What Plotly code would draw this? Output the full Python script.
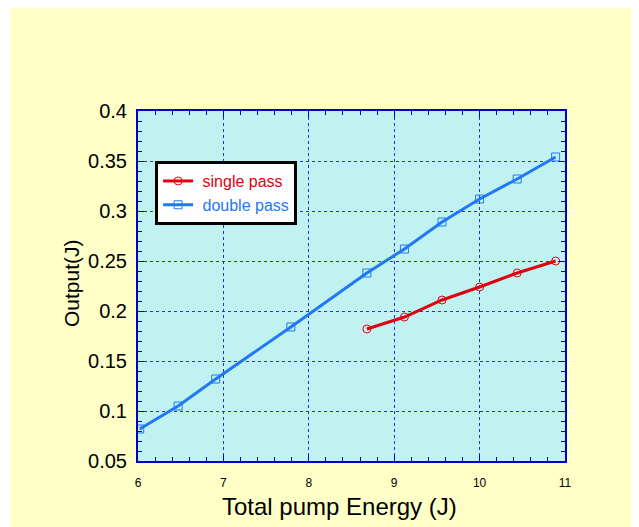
import plotly.graph_objects as go

double_x = [6.02, 6.47, 6.91, 7.79, 8.68, 9.12, 9.56, 10.0, 10.44, 10.89]
double_y = [0.082, 0.105, 0.132, 0.184, 0.238, 0.262, 0.289, 0.312, 0.332, 0.354]
single_x = [8.68, 9.12, 9.56, 10.0, 10.44, 10.89]
single_y = [0.182, 0.194, 0.211, 0.224, 0.238, 0.250]
x_ticks = [6, 7, 8, 9, 10, 11]
y_ticks = [0.05, 0.1, 0.15, 0.2, 0.25, 0.3, 0.35, 0.4]
x_title = "Total pump Energy (J)"
y_title = "Output(J)"

RED = "#E00010"
BLUE = "#2277F5"
AXIS = "#0000C8"
GRID = "#2A2AF0"
FONT = "Arial, Liberation Sans, sans-serif"

fig = go.Figure()
fig.add_trace(go.Scatter(
    x=single_x, y=single_y, mode="lines+markers",
    name=f"<span style='color:{RED}'>&nbsp;single pass</span>",
    line=dict(color=RED, width=3),
    marker=dict(symbol="circle-open", size=8, color=RED, line=dict(width=1)),
))
fig.add_trace(go.Scatter(
    x=double_x, y=double_y, mode="lines+markers",
    name=f"<span style='color:{BLUE}'>&nbsp;double pass</span>",
    line=dict(color=BLUE, width=3),
    marker=dict(symbol="square-open", size=8, color=BLUE, line=dict(width=1)),
))

axis_common = dict(
    showline=True, linecolor=AXIS, linewidth=2, mirror="ticks",
    ticks="inside", tickcolor=AXIS, ticklen=6, tickwidth=1,
    showgrid=True, gridcolor=GRID, griddash="3px,3px", gridwidth=1,
    zeroline=False,
)

fig.update_xaxes(
    range=[6, 11], tickvals=x_ticks, ticktext=[str(v) for v in x_ticks],
    tickfont=dict(family=FONT, size=12, color="black"),
    ticklabelstandoff=10,
    minor=dict(ticks="inside", dtick=0.2, ticklen=4, tickcolor=AXIS, showgrid=False),
    **axis_common,
)
fig.update_yaxes(
    range=[0.05, 0.4], tickvals=y_ticks, ticktext=[f"{v:g}" for v in y_ticks],
    tickfont=dict(family=FONT, size=20, color="black"),
    ticklabelstandoff=5,
    minor=dict(ticks="inside", dtick=0.01, ticklen=4, tickcolor=AXIS, showgrid=False),
    **axis_common,
)

fig.update_layout(
    width=631, height=519,
    margin=dict(l=130, r=74, t=103, b=66),
    paper_bgcolor="#FFFFC8",
    plot_bgcolor="#C0F2F2",
    showlegend=True,
    legend=dict(
        x=0.04, y=0.857, xanchor="left", yanchor="top",
        bgcolor="white", bordercolor="black", borderwidth=3,
        font=dict(family=FONT, size=16),
        tracegroupgap=0,
    ),
    annotations=[
        dict(text=x_title, xref="paper", yref="paper", x=0.473, y=-0.131,
             xanchor="center", yanchor="middle", showarrow=False,
             font=dict(family=FONT, size=24, color="black")),
        dict(text=y_title, xref="paper", yref="paper", x=-0.1546, y=0.5086,
             xanchor="center", yanchor="middle", showarrow=False, textangle=-90,
             font=dict(family=FONT, size=21, color="black")),
    ],
    shapes=[
        dict(type="rect", xref="paper", yref="paper", x0=-0.5, x1=-(130 - 2) / 427, y0=-0.5, y1=1.5,
             fillcolor="white", line=dict(width=0), layer="below"),
    ],
)

fig.write_html("out.html")
